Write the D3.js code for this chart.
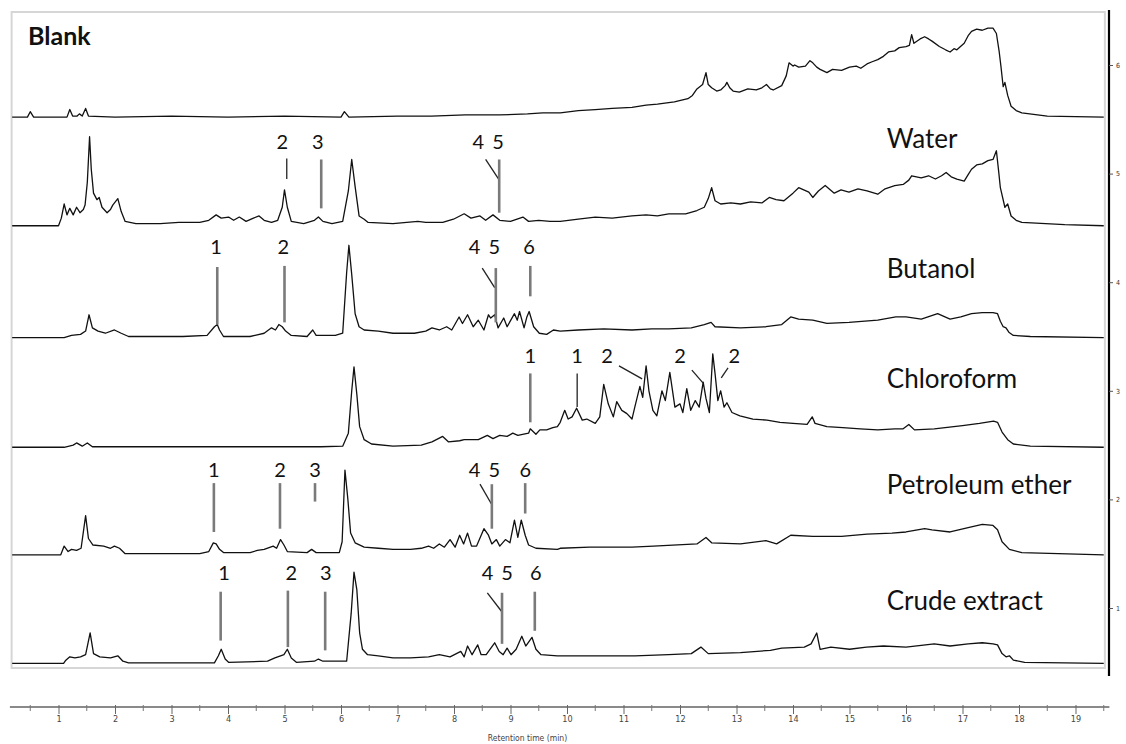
<!DOCTYPE html>
<html>
<head>
<meta charset="utf-8">
<script src="https://cdn.jsdelivr.net/npm/d3@7"></script>
<style>
  body { margin: 0; background: #fff; }
  svg { display: block; }
</style>
</head>
<body>
<script>
// Stacked HPLC chromatograms, one trace per extract

// ---- data ----
var trace_names   = ["Blank", "Water", "Butanol", "Chloroform", "Petroleum ether", "Crude extract"];
var trace_offsets = [5.52, 4.52, 3.49, 2.48, 1.49, 0.49];   // baseline of each trace on the right axis
var right_ticks   = [1, 2, 3, 4, 5, 6];
var time_ticks    = [1, 2, 3, 4, 5, 6, 7, 8, 9, 10, 11, 12, 13, 14, 15, 16, 17, 18, 19];
var x_title       = "Retention time (min)";

// [retention time (min), signal (1/100 of a right-axis unit)]
var blank = [[0.18,0],[0.45,0],[0.5,5],[0.56,0],[1.15,0],[1.2,7],[1.25,1],[1.33,1],[1.37,3],[1.42,1],[1.48,8],[1.53,1],
  [2.0,0],[3.0,1],[4.0,0],[5.0,1],[6.0,0],[6.06,5],[6.14,0],[7.0,1],[7.6,1],[8.2,2],[8.8,2],[9.3,3],[9.57,4],[9.88,4],
  [10.2,6],[10.5,7],[10.8,8],[11.15,9],[11.4,11],[11.6,12],[11.9,14],[12.14,17],[12.22,20],[12.3,26],[12.4,30],[12.46,41],
  [12.5,30],[12.56,27],[12.65,24],[12.72,25],[12.8,29],[12.83,32],[12.88,27],[12.94,24],[13.05,23],[13.2,26],[13.35,25],
  [13.45,27],[13.53,30],[13.6,26],[13.65,25],[13.8,29],[13.88,38],[13.93,50],[14.0,47],[14.03,48],[14.1,46],[14.22,47],
  [14.3,52],[14.35,50],[14.42,46],[14.48,44],[14.6,41],[14.7,44],[14.86,43],[15.0,46],[15.12,47],[15.2,45],[15.31,49],
  [15.4,51],[15.5,53],[15.6,56],[15.69,60],[15.8,61],[15.88,64],[16.0,65],[16.06,66],[16.1,76],[16.14,68],[16.25,72],
  [16.33,74],[16.4,72],[16.46,70],[16.59,65],[16.7,62],[16.78,60],[16.85,63],[16.9,62],[17.03,68],[17.1,75],[17.16,79],
  [17.25,81],[17.35,80],[17.45,82],[17.54,82],[17.6,77],[17.65,60],[17.68,47],[17.72,28],[17.75,32],[17.8,20],[17.86,10],
  [17.95,6],[18.05,4],[18.5,1],[19.5,0]];

var water = [[0.18,0],[1.0,0],[1.05,7],[1.1,20],[1.15,10],[1.2,16],[1.26,10],[1.32,17],[1.38,12],[1.44,15],[1.47,19],
  [1.51,40],[1.55,82],[1.58,52],[1.62,30],[1.68,24],[1.72,26],[1.77,17],[1.86,12],[1.92,15],[1.96,19],[2.05,25],[2.11,13],
  [2.18,4],[2.37,2],[2.8,2],[3.13,3],[3.5,3],[3.66,5],[3.79,10],[3.88,7],[4.01,8],[4.1,5],[4.2,8],[4.32,4],[4.45,7],
  [4.55,9],[4.64,5],[4.77,3],[4.88,5],[4.96,17],[5.0,33],[5.05,17],[5.12,4],[5.34,2],[5.53,5],[5.6,8],[5.68,4],[5.84,2],
  [6.03,4],[6.13,32],[6.19,61],[6.25,36],[6.32,9],[6.41,6],[6.48,3],[6.92,2],[7.36,4],[7.5,3],[7.8,3],[7.99,6],[8.18,11],
  [8.3,7],[8.46,9],[8.56,5],[8.69,10],[8.81,5],[9.0,4],[9.22,8],[9.32,4],[9.5,5],[9.7,4],[9.88,4],[10.2,6],[10.5,8],
  [10.8,7],[11.15,9],[11.4,10],[11.6,9],[11.8,11],[12.1,11],[12.3,14],[12.43,17],[12.5,25],[12.56,35],[12.62,23],[12.72,20],
  [12.9,21],[13.07,20],[13.25,22],[13.45,21],[13.58,26],[13.7,24],[13.84,23],[14.0,30],[14.1,35],[14.28,31],[14.35,26],
  [14.45,32],[14.57,37],[14.73,30],[14.85,33],[14.99,31],[15.15,34],[15.31,32],[15.5,29],[15.63,34],[15.8,37],[15.95,38],
  [16.05,42],[16.1,46],[16.27,44],[16.4,46],[16.52,43],[16.63,46],[16.71,49],[16.8,45],[16.9,43],[17.03,41],[17.1,47],
  [17.16,52],[17.25,56],[17.35,57],[17.45,60],[17.54,61],[17.6,69],[17.64,50],[17.67,35],[17.75,17],[17.8,20],[17.86,9],
  [17.95,5],[18.05,3],[18.81,1],[19.5,0]];

var butanol = [[0.18,0],[1.1,0],[1.23,2],[1.39,3],[1.48,6],[1.54,21],[1.6,9],[1.7,6],[1.83,4],[1.99,7],[2.11,4],[2.24,1],
  [2.62,1],[3.2,1],[3.63,2],[3.76,10],[3.81,12],[3.85,7],[3.92,1],[4.39,1],[4.64,4],[4.77,9],[4.84,7],[4.9,12],[4.96,10],
  [5.02,6],[5.12,2],[5.4,1],[5.5,7],[5.56,2],[5.9,2],[6.03,4],[6.1,60],[6.14,85],[6.19,58],[6.25,22],[6.32,10],[6.41,7],
  [6.66,6],[6.92,4],[7.3,4],[7.5,6],[7.61,9],[7.74,7],[7.87,10],[7.96,7],[8.09,19],[8.15,13],[8.24,21],[8.34,10],[8.43,16],
  [8.53,7],[8.61,21],[8.65,18],[8.72,21],[8.78,9],[8.88,18],[8.94,10],[9.07,22],[9.12,16],[9.16,24],[9.24,9],[9.29,19],
  [9.33,24],[9.41,10],[9.51,4],[9.64,3],[9.76,7],[9.88,6],[10.2,7],[10.65,8],[11.15,7],[11.5,8],[11.8,8],[12.2,9],
  [12.43,12],[12.55,14],[12.62,10],[13.07,9],[13.52,10],[13.8,12],[13.96,19],[14.1,17],[14.35,16],[14.6,13],[14.99,14],
  [15.5,16],[15.82,19],[16.0,19],[16.27,17],[16.56,22],[16.78,17],[16.97,19],[17.16,22],[17.35,23],[17.54,23],[17.62,22],
  [17.67,15],[17.72,10],[17.77,9],[17.82,5],[17.9,2],[18.2,1],[19.5,0]];

var chloroform = [[0.18,0],[1.1,0],[1.26,2],[1.32,4],[1.42,1],[1.51,4],[1.6,0.5],[3.0,0.5],[5.65,0.5],[6.03,1],[6.13,13],
  [6.19,52],[6.23,74],[6.28,49],[6.33,19],[6.41,7],[6.54,3],[6.92,1],[7.42,2],[7.61,5],[7.8,10],[7.9,5],[8.1,6],[8.18,7],
  [8.43,7],[8.59,11],[8.69,8],[8.81,11],[8.94,10],[9.04,13],[9.13,11],[9.32,13],[9.35,17],[9.45,12],[9.52,16],[9.64,16],
  [9.75,18],[9.83,19],[9.88,23],[9.96,34],[10.02,26],[10.09,28],[10.17,36],[10.27,25],[10.35,26],[10.5,22],[10.58,28],
  [10.65,58],[10.73,40],[10.82,28],[10.88,42],[10.97,34],[11.06,31],[11.15,26],[11.2,37],[11.29,56],[11.34,46],[11.4,75],
  [11.45,52],[11.52,34],[11.59,29],[11.68,52],[11.74,43],[11.82,69],[11.91,37],[12.0,40],[12.05,32],[12.12,54],[12.19,34],
  [12.27,43],[12.34,37],[12.41,60],[12.46,45],[12.52,32],[12.58,86],[12.62,68],[12.67,43],[12.72,52],[12.78,37],[12.83,41],
  [12.92,32],[13.06,29],[13.29,26],[13.54,25],[13.77,23],[14.0,22],[14.25,21],[14.34,28],[14.39,22],[14.6,19],[14.88,18],
  [15.19,17],[15.5,16],[15.8,17],[15.95,17],[16.05,21],[16.15,16],[16.5,17],[17.0,20],[17.3,22],[17.55,24],[17.62,23],
  [17.7,14],[17.8,7],[17.9,3],[18.2,1],[19.5,0]];

var petroleum = [[0.18,0],[1.04,0],[1.1,8],[1.17,3],[1.23,5],[1.32,4],[1.4,6],[1.48,36],[1.53,15],[1.61,9],[1.8,8],[1.92,6],
  [1.99,8],[2.08,6],[2.18,1],[3.5,1],[3.66,3],[3.74,11],[3.79,10],[3.85,5],[3.92,2],[4.39,2],[4.52,4],[4.64,5],[4.8,8],
  [4.86,6],[4.93,14],[4.99,9],[5.05,3],[5.4,2],[5.48,5],[5.56,2],[5.97,2],[6.02,12],[6.07,78],[6.12,52],[6.17,20],[6.25,11],
  [6.41,7],[6.66,6],[6.92,5],[7.23,5],[7.42,6],[7.55,8],[7.64,6],[7.74,10],[7.83,7],[7.93,14],[8.02,7],[8.1,18],[8.17,10],
  [8.24,20],[8.31,8],[8.4,8],[8.53,24],[8.61,18],[8.67,10],[8.75,14],[8.81,8],[8.91,14],[8.99,11],[9.07,32],[9.13,16],
  [9.19,32],[9.26,18],[9.32,9],[9.45,6],[9.83,5],[9.88,6],[10.4,7],[11.15,7],[11.53,8],[12.3,10],[12.46,16],[12.56,11],
  [13.07,10],[13.52,13],[13.71,10],[13.96,18],[14.35,17],[14.86,17],[15.31,19],[15.75,20],[16.0,21],[16.33,24],[16.46,23],
  [16.78,21],[17.1,25],[17.35,28],[17.54,27],[17.62,23],[17.7,12],[17.83,5],[18.05,2],[19.5,0]];

var crude = [[0.18,0],[1.09,0],[1.13,3],[1.2,6],[1.29,5],[1.39,6],[1.48,8],[1.56,28],[1.62,9],[1.73,6],[1.92,5],[2.05,7],
  [2.14,2],[2.24,0.5],[3.76,0.5],[3.83,7],[3.88,13],[3.95,4],[4.01,1],[4.7,2],[4.83,5],[4.93,7],[4.99,8],[5.05,13],[5.12,5],
  [5.21,1],[5.53,2],[5.6,4],[5.68,2],[6.1,2],[6.18,46],[6.23,84],[6.28,68],[6.33,28],[6.38,13],[6.47,8],[6.66,7],[6.92,5],
  [7.23,5],[7.55,6],[7.74,8],[7.93,6],[8.12,11],[8.18,6],[8.24,16],[8.32,8],[8.42,17],[8.48,8],[8.57,8],[8.72,19],[8.8,11],
  [8.87,8],[8.94,14],[9.01,8],[9.1,13],[9.2,25],[9.27,16],[9.38,24],[9.45,13],[9.54,8],[9.83,7],[10.5,7],[11.2,7],[11.8,8],
  [12.2,9],[12.37,15],[12.5,9],[13.07,10],[13.6,12],[13.8,14],[14.2,15],[14.32,18],[14.42,28],[14.48,13],[14.67,15],
  [15.0,13],[15.3,15],[15.6,16],[16.0,15],[16.5,18],[16.78,16],[17.1,18],[17.35,19],[17.54,18],[17.62,17],[17.7,9],
  [17.77,6],[17.83,7],[17.9,3],[18.1,1],[19.5,0]];

var traces = [blank, water, butanol, chloroform, petroleum, crude];

// peak numbers: label at (t, h); lines [t1, h1, t2, h2, kind]  (kind g = grey bar, k = thin black)
var blank_marks = [];
var water_marks = [
  {text: "2",   t: 4.96, h: 78, lines: [[5.04, 62, 5.04, 43, "k"]]},
  {text: "3",   t: 5.59, h: 78, lines: [[5.65, 61, 5.65, 16, "g"]]},
  {text: "4 5", t: 8.62, h: 78, lines: [[8.56, 61, 8.79, 43, "k"], [8.8, 61, 8.8, 12, "g"]]}
];
var butanol_marks = [
  {text: "1",   t: 3.79, h: 84, lines: [[3.81, 65, 3.81, 12, "g"]]},
  {text: "2",   t: 4.98, h: 84, lines: [[5.0, 66, 5.0, 14, "g"]]},
  {text: "4 5", t: 8.55, h: 84, lines: [[8.5, 64, 8.72, 46, "k"], [8.74, 64, 8.74, 14, "g"]]},
  {text: "6",   t: 9.33, h: 84, lines: [[9.35, 66, 9.35, 38, "g"]]}
];
var chloroform_marks = [
  {text: "1", t: 9.35,  h: 85, lines: [[9.35, 68, 9.35, 23, "g"]]},
  {text: "1", t: 10.18, h: 85, lines: [[10.18, 68, 10.18, 37, "k"]]},
  {text: "2", t: 10.71, h: 85, lines: [[10.92, 75, 11.33, 63, "k"]]},
  {text: "2", t: 12.0,  h: 85, lines: [[12.21, 71, 12.41, 59, "k"]]},
  {text: "2", t: 12.96, h: 85, lines: [[12.85, 73, 12.73, 64, "k"]]}
];
var petroleum_marks = [
  {text: "1",   t: 3.75, h: 79, lines: [[3.75, 66, 3.75, 21, "g"]]},
  {text: "2",   t: 4.92, h: 79, lines: [[4.92, 66, 4.92, 24, "g"]]},
  {text: "3",   t: 5.54, h: 79, lines: [[5.54, 66, 5.54, 49, "g"]]},
  {text: "4 5", t: 8.55, h: 79, lines: [[8.46, 65, 8.66, 47, "k"], [8.67, 65, 8.67, 24, "g"]]},
  {text: "6",   t: 9.26, h: 79, lines: [[9.26, 66, 9.26, 38, "g"]]}
];
var crude_marks = [
  {text: "1",   t: 3.93, h: 84, lines: [[3.87, 66, 3.87, 21, "g"]]},
  {text: "2",   t: 5.12, h: 84, lines: [[5.06, 67, 5.06, 15, "g"]]},
  {text: "3",   t: 5.73, h: 84, lines: [[5.72, 66, 5.72, 12, "g"]]},
  {text: "4 5", t: 8.78, h: 84, lines: [[8.59, 65, 8.84, 48, "k"], [8.85, 65, 8.85, 18, "g"]]},
  {text: "6",   t: 9.45, h: 84, lines: [[9.43, 66, 9.43, 30, "g"]]}
];
var marks = [blank_marks, water_marks, butanol_marks, chloroform_marks, petroleum_marks, crude_marks];

// where each trace name sits: [time, height above its baseline]
var name_pos = [[0.46, 76], [15.66, 81], [15.66, 64], [15.66, 64], [15.66, 65], [15.66, 58]];

// ---- layout ----
var width = 1126, height = 744;
var x = d3.scaleLinear().domain([0, 19]).range([2, 1075.5]);
var y = d3.scaleLinear().domain([0, 6]).range([716.6, 65]);
var font = "Lato, 'Open Sans', sans-serif";

function level(i, s) { return y(trace_offsets[i] + s / 100); }

var svg = d3.select("body").append("svg")
    .attr("width", width)
    .attr("height", height);

// light frame round the traces
svg.append("rect")
    .attr("x", x(0.17)).attr("y", 12)
    .attr("width", x(19.52) - x(0.17)).attr("height", 656)
    .attr("fill", "none").attr("stroke", "#d6d6d6").attr("stroke-width", 2);

// traces
var line = d3.line();
traces.forEach(function (d, i) {
    svg.append("path")
        .attr("d", line(d.map(function (p) { return [x(p[0]), level(i, p[1])]; })))
        .attr("fill", "none")
        .attr("stroke", "#111")
        .attr("stroke-width", 1.3)
        .attr("stroke-linejoin", "round");
});

// trace names
trace_names.forEach(function (name, i) {
    svg.append("text")
        .attr("x", x(name_pos[i][0]))
        .attr("y", level(i, name_pos[i][1]))
        .attr("dominant-baseline", "central")
        .attr("font-family", font)
        .attr("font-size", i == 0 ? 25 : 26)
        .attr("font-weight", i == 0 ? 700 : 400)
        .attr("fill", "#111")
        .text(name);
});

// peak numbers and their pointers
marks.forEach(function (list, i) {
    list.forEach(function (m) {
        svg.append("text")
            .attr("x", x(m.t))
            .attr("y", level(i, m.h))
            .attr("text-anchor", "middle")
            .attr("dominant-baseline", "central")
            .attr("font-family", font)
            .attr("font-size", 20)
            .attr("letter-spacing", m.text.length > 1 ? 1.5 : 0)
            .attr("fill", "#111")
            .text(m.text);
        m.lines.forEach(function (l) {
            svg.append("line")
                .attr("x1", x(l[0])).attr("y1", level(i, l[1]))
                .attr("x2", x(l[2])).attr("y2", level(i, l[3]))
                .attr("stroke", l[4] == "g" ? "#7a7a7a" : "#222")
                .attr("stroke-width", l[4] == "g" ? 2.6 : 1.3);
        });
    });
});

// right axis (trace index)
var yAxis = d3.axisRight(y).tickValues(right_ticks).tickSize(4).tickPadding(3).tickFormat(d3.format("d"));
var gy = svg.append("g").attr("transform", "translate(1109,0)").call(yAxis);
gy.select(".domain").attr("d", "M0,10V676").attr("stroke", "#000").attr("stroke-width", 2.2);
gy.selectAll(".tick line").attr("stroke", "#555");
gy.selectAll(".tick text").attr("font-family", "'DejaVu Sans Condensed', sans-serif").attr("font-size", 7).attr("fill", "#333");

// bottom time axis
var minor = d3.range(0.5, 19.6, 1);
svg.append("line")
    .attr("x1", x(0.14)).attr("x2", x(19.6))
    .attr("y1", 707).attr("y2", 707)
    .attr("stroke", "#8a8a8a").attr("stroke-width", 2);
svg.selectAll(".minor").data(minor).enter().append("line")
    .attr("class", "minor")
    .attr("x1", function (d) { return x(d); }).attr("x2", function (d) { return x(d); })
    .attr("y1", 705).attr("y2", 711)
    .attr("stroke", "#777").attr("stroke-width", 1);
var xAxis = d3.axisBottom(x).tickValues(time_ticks).tickSize(9).tickPadding(2).tickFormat(d3.format("d"));
var gx = svg.append("g").attr("transform", "translate(0,705)").call(xAxis);
gx.select(".domain").remove();
gx.selectAll(".tick line").attr("stroke", "#666");
gx.selectAll(".tick text")
    .attr("font-family", "'DejaVu Sans Condensed', sans-serif")
    .attr("font-size", 9).attr("fill", "#444");

svg.append("text")
    .attr("x", x(9.3)).attr("y", 741)
    .attr("text-anchor", "middle")
    .attr("font-family", "'DejaVu Sans Condensed', sans-serif")
    .attr("font-size", 8.5)
    .attr("fill", "#444")
    .text(x_title);
</script>
</body>
</html>
